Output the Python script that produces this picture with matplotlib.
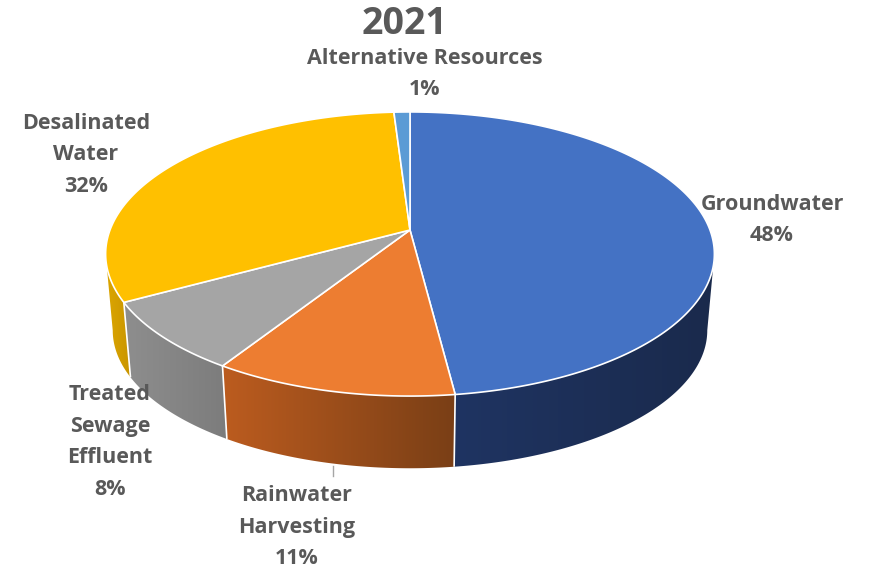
import numpy as np
import matplotlib
matplotlib.use("Agg")
import matplotlib.pyplot as plt
from matplotlib.patches import Polygon
from matplotlib.colors import LinearSegmentedColormap

# Water supply mix, share of total (%)
labels = ["Groundwater", "Rainwater\nHarvesting", "Treated\nSewage\nEffluent",
          "Desalinated\nWater", "Alternative Resources"]
shares = [48, 11, 8, 32, 1]
top_colors = ["#4472C4", "#ED7D31", "#A5A5A5", "#FFC000", "#5B9BD5"]
# side wall gradient (left colour, right colour)
side_colors = [("#1F3462", "#1A2A4C"), ("#BC5C1F", "#7A3F16"),
               ("#8E8E8E", "#7C7C7C"), ("#DCA600", "#C99500"),
               ("#4A80B4", "#3A6A98")]
label_pos = [(772, 220), (297, 527), (110, 442), (86, 155), (425, 74)]

TXT = "#595959"
CX, CY = 410, 230        # apex of the slices
RX, RY = 300, 138        # top rim
RXB, RYB = 293, 134      # bottom rim (further from the eye)
K = 0.169                # perspective strength
DEPTH = 77


def proj(theta, rx=RX, ry=RY, dy=0):
    t = np.radians(theta)
    w = 1 + K * np.cos(t)
    return CX + rx * np.sin(t) / w, CY + dy - ry * np.cos(t) / w


fig = plt.figure(figsize=(8.71, 5.72), dpi=100)
ax = fig.add_axes([0, 0, 1, 1])

bounds = np.concatenate([[0], np.cumsum(shares)]) * 3.6
vis_lo = np.degrees(np.arccos(-K))
vis_hi = 360 - vis_lo

# side walls: one polygon per slice, filled with a horizontal gradient
for i in range(len(shares)):
    a0, a1 = max(bounds[i], vis_lo), min(bounds[i + 1], vis_hi)
    if a1 <= a0:
        continue
    th = np.linspace(a0, a1, 200)
    xs, ys = proj(th)
    xb, yb = proj(th, RXB, RYB, DEPTH)
    pts = list(zip(xs, ys)) + list(zip(xb[::-1], yb[::-1]))
    wall = Polygon(pts, closed=True, facecolor="none", edgecolor="none")
    ax.add_patch(wall)
    xmin, xmax = min(xs.min(), xb.min()), max(xs.max(), xb.max())
    cmap = LinearSegmentedColormap.from_list(f"w{i}", list(side_colors[i]))
    img = ax.imshow(np.linspace(0, 1, 256)[None, :], cmap=cmap, aspect="auto",
                    extent=(xmin, xmax, yb.max() + 2, ys.min() - 2),
                    interpolation="bilinear", zorder=1)
    img.set_clip_path(wall)

# white seams on the walls
for b in bounds[1:-1]:
    if vis_lo < b < vis_hi:
        x, y = proj(b)
        x2, y2 = proj(b, RXB, RYB, DEPTH)
        ax.plot([x, x2], [y, y2], color="white", lw=1.2,
                solid_capstyle="butt", zorder=2)

# top face
for i in range(len(shares)):
    th = np.linspace(bounds[i], bounds[i + 1], max(int(shares[i] * 8), 4))
    xs, ys = proj(th)
    pts = [(CX, CY)] + list(zip(xs, ys))
    ax.add_patch(Polygon(pts, closed=True, facecolor=top_colors[i],
                         edgecolor="white", lw=1.2, joinstyle="round", zorder=3))

ax.set_xlim(0, 871)
ax.set_ylim(572, 0)
ax.axis("off")

# leader line for the rainwater label
ax.plot([333, 333], [466, 476], color="#A6A6A6", lw=1)

for lab, v, (x, y) in zip(labels, shares, label_pos):
    ax.text(x, y, f"{lab}\n{v}%", ha="center", va="center", color=TXT,
            fontsize=15.5, fontweight="bold", family="Open Sans", linespacing=1.68)

ax.text(405, 24, "2021", ha="center", va="center", color=TXT,
        fontsize=27, fontweight="bold", family="Open Sans")

fig.savefig("out.png", dpi=100)
